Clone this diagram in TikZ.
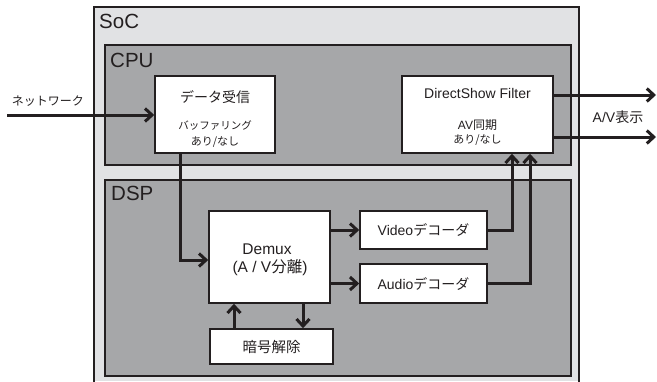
\documentclass[tikz,border=0pt]{standalone}
\usepackage{fontspec}
\setmainfont{Liberation Sans}
\newfontfamily\jp{Noto Sans CJK JP}
\usetikzlibrary{arrows.meta}
\definecolor{socfill}{HTML}{E1E2E4}
\definecolor{blkfill}{HTML}{A6A7A9}
\definecolor{ink}{HTML}{231F20}
\tikzset{
  box/.style={draw=ink, line width=1.6pt, fill=white, inner sep=0pt},
  region/.style={draw=ink, line width=1.6pt, fill=blkfill},
  arr/.style={draw=ink, line width=3pt, -{Straight Barb[length=7pt,width=13pt,line width=3pt]}},
  big/.style={font=\fontsize{20.5}{24}\selectfont, text=ink, anchor=west, inner sep=0pt},
  txt/.style={text=ink, inner sep=0pt}
}
\begin{document}
\begin{tikzpicture}[x=1pt,y=-1pt]
\useasboundingbox (0,0) rectangle (657,381);
% SoC
\fill[socfill] (94,7) rectangle (579,381);
\draw[ink, line width=1.6pt] (94,383) -- (94,7) -- (579,7) -- (579,383);
\node[big] (soclbl) at (99,21.5) {SoC};
% CPU and DSP regions
\draw[region] (105,45) rectangle (571,165);
\node[big] (cpulbl) at (110,60) {CPU};
\draw[region] (105,180) rectangle (571,376);
\node[big] (dsplbl) at (111,193) {DSP};
% boxes
\node[box, minimum width=120pt, minimum height=77pt] (recv) at (215,114.5) {};
\node[box, minimum width=151pt, minimum height=77pt] (dsf) at (477.5,114.5) {};
\node[box, minimum width=121pt, minimum height=92pt] (demux) at (269.5,257) {};
\node[box, minimum width=127pt, minimum height=38pt] (vdec) at (423.5,230) {};
\node[box, minimum width=127pt, minimum height=39pt] (adec) at (423.5,283.5) {};
\node[box, minimum width=123pt, minimum height=35pt] (dec) at (271.5,346.5) {};
% texts
\node[txt, font=\fontsize{14}{16}\selectfont] (t1) at (215,97) {\jp データ受信};
\node[txt, font=\fontsize{10.5}{12}\selectfont] (t2) at (215,126) {\jp バッファリング};
\node[txt, font=\fontsize{11}{12}\selectfont] (t3) at (215,142) {\jp あり/なし};
\node[txt, font=\fontsize{14}{16}\selectfont] (t4) at (477.5,93) {DirectShow Filter};
\node[txt, font=\fontsize{12}{14}\selectfont] (t5) at (477.5,125) {AV{\jp 同期}};
\node[txt, font=\fontsize{11}{12}\selectfont] (t6) at (477.5,140) {\jp あり/なし};
\node[txt, font=\fontsize{15.5}{18}\selectfont] (t7) at (267,249) {Demux};
\node[txt, font=\fontsize{15.5}{18}\selectfont] (t8) at (270,267.5) {(A / V{\jp 分離})};
\node[txt, font=\fontsize{14}{16}\selectfont] (t9) at (423.5,230) {Video{\jp デコーダ}};
\node[txt, font=\fontsize{14}{16}\selectfont] (t10) at (423.5,284) {Audio{\jp デコーダ}};
\node[txt, font=\fontsize{14.5}{16}\selectfont] (t11) at (271.5,347) {\jp 暗号解除};
\node[txt, font=\fontsize{12}{14}\selectfont] (net) at (48,101) {\jp ネットワーク};
\node[txt, font=\fontsize{14}{16}\selectfont] (av) at (618,117) {A/V{\jp 表示}};
% connector anchor points
\coordinate (nin) at (7,115);
\coordinate (oedge) at (656,0);
\coordinate (d1) at ([yshift=19.5pt]dsf.east);
\coordinate (d2) at ([yshift=-22.5pt]dsf.east);
\coordinate (rs) at ([xshift=-35pt]recv.south);
\coordinate (dw) at ([yshift=-3pt]demux.west);
\coordinate (dv) at ([xshift=34.5pt]dsf.south);
\coordinate (da) at ([xshift=52.5pt]dsf.south);
\coordinate (cu) at ([xshift=-37.5pt]dec.north);
\coordinate (cd) at ([xshift=33.5pt]demux.south);
% connectors
\draw[arr] (nin) -- (nin -| recv.west);
\draw[arr] (d1) -- (d1 -| oedge);
\draw[arr] (d2) -- (d2 -| oedge);
\draw[arr] (rs) |- (dw);
\draw[arr] (demux.east |- vdec) -- (vdec.west);
\draw[arr] (demux.east |- adec) -- (adec.west);
\draw[arr] (vdec.east) -| (dv);
\draw[arr] (adec.east) -| (da);
\draw[arr] (cu) -- (cu |- demux.south);
\draw[arr] (cd) -- (cd |- dec.north);
\end{tikzpicture}
\end{document}
